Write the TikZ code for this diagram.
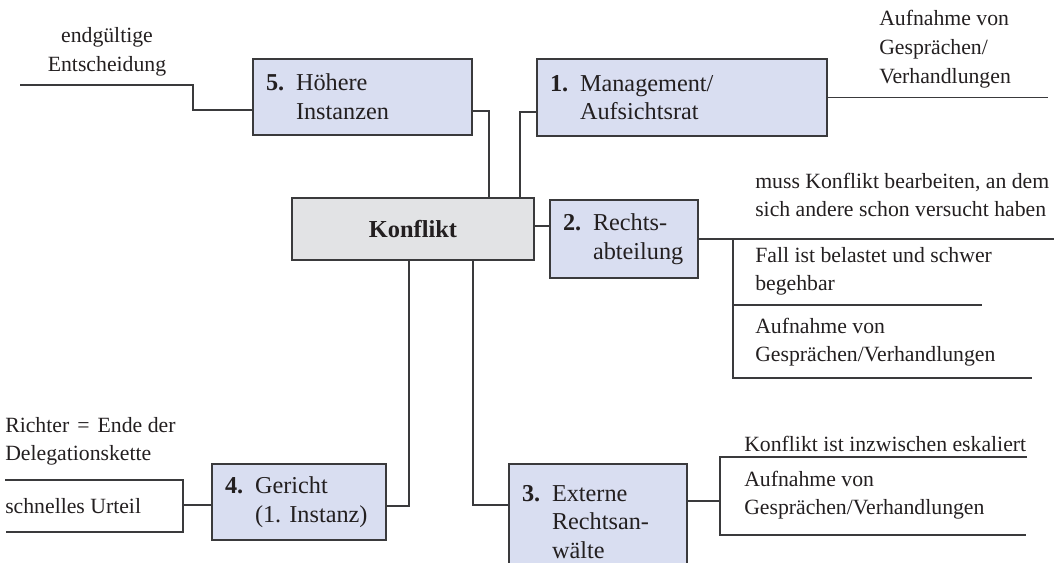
\documentclass[tikz,border=0pt]{standalone}
\usepackage{fontspec}
\setmainfont{Liberation Serif}
\definecolor{boxblue}{HTML}{D9DEF1}
\definecolor{boxgray}{HTML}{E2E3E5}
\definecolor{edge}{HTML}{3A3A3C}
\definecolor{ink}{HTML}{231F20}
\newcommand{\ml}[1]{\begin{tabular}[t]{@{}l@{}}#1\end{tabular}}
\newcommand{\mc}[1]{\begin{tabular}[t]{@{}c@{}}#1\end{tabular}}
\newcommand{\stnum}[1]{\makebox[22.5pt][l]{\textbf{#1}}}
\newcommand{\stind}{\hspace*{22.5pt}}
\begin{document}
\begin{tikzpicture}[x=0.75pt,y=-0.75pt,
  every node/.style={font=\fontsize{16.3}{21.5}\selectfont, text=ink},
  stage/.style={draw=edge, line width=1.3pt, fill=boxblue, inner xsep=9.75pt, inner ysep=0pt, align=left, anchor=center, font=\fontsize{18.2}{21.5}\selectfont},
  core/.style={draw=edge, line width=1.3pt, fill=boxgray, inner sep=0pt, minimum width=181.5pt, minimum height=46.5pt, font=\fontsize{18.3}{22}\selectfont\bfseries},
  conn/.style={draw=edge, line width=1.1pt},
  note/.style={anchor=base west, inner sep=0pt},
  notec/.style={anchor=base, inner sep=0pt}
]
\useasboundingbox (0,0) rectangle (1055,563);

% boxes
\node[core] (konf) at (413,229) {Konflikt};
\node[stage, text width=144.75pt, minimum height=57pt] (b5) at (362.5,97) {\stnum{5.}Höhere\\\stind Instanzen};
\node[stage, text width=198pt, minimum height=57.75pt] (b1) at (682,97.5) {\stnum{1.}Management/\\\stind Aufsichtsrat};
\node[stage, text width=91.5pt, minimum height=58.5pt] (b2) at (624,239) {\stnum{2.}Rechts-\\\stind abteilung};
\node[stage, text width=111pt, minimum height=57pt] (b4) at (299,502) {\stnum{4.}Gericht\\\stind (1.\ Instanz)};
\node[stage, text width=114pt, minimum height=87pt] (b3) at (598,522) {\stnum{3.}Externe\\\stind Rechtsan-\\\stind wälte};

% free ends and bracket corners
\coordinate (p5) at (193,85);
\coordinate (q5) at (20,85);
\coordinate (q1) at (1048,97.5);
\coordinate (q2) at (1054,239);
\coordinate (r2a) at (733,239);
\coordinate (r2b) at (733,378);
\coordinate (r2c) at (1032,378);
\coordinate (r2m) at (733,305);
\coordinate (r2n) at (982,305);
\coordinate (l4a) at (5,480);
\coordinate (l4b) at (183,480);
\coordinate (l4c) at (183,532);
\coordinate (l4d) at (6,532);
\coordinate (l4m) at (183,505);
\coordinate (r3m) at (720,501);
\coordinate (r3a) at (1027,457);
\coordinate (r3b) at (720,457);
\coordinate (r3c) at (720,535);
\coordinate (r3d) at (1026,535);

% connectors
\draw[conn] ([shift={(0,14)}]b5.east) -| ([shift={(76,0)}]konf.north);
\draw[conn] ([shift={(0,14.5)}]b1.west) -| ([shift={(107,0)}]konf.north);
\draw[conn] ([shift={(0,13)}]b5.west) -| (p5) -- (q5);
\draw[conn] (b1.east) -- (q1);
\draw[conn] ([shift={(0,-3)}]konf.east) -- ([shift={(0,-13)}]b2.west);
\draw[conn] (b2.east) -- (q2);
\draw[conn] (r2a) -- (r2b) -- (r2c);
\draw[conn] (r2m) -- (r2n);
\draw[conn] ([shift={(-4,0)}]konf.south) |- ([shift={(0,4)}]b4.east);
\draw[conn] ([shift={(60,0)}]konf.south) |- ([shift={(0,-17)}]b3.west);
\draw[conn] ([shift={(0,3)}]b4.west) -- (l4m);
\draw[conn] (l4a) -- (l4b) -- (l4c) -- (l4d);
\draw[conn] ([shift={(0,-21)}]b3.east) -- (r3m);
\draw[conn] (r3a) -- (r3b) -- (r3c) -- (r3d);

% texts
\node[notec] (t5) at (107,43) {\mc{endgültige\\Entscheidung}};
\node[note] (t1) at (879,26) {\ml{Aufnahme von\\Gesprächen/\\Verhandlungen}};
\node[note] (t2a) at (755,188) {\ml{muss Konflikt bearbeiten, an dem\\sich andere schon versucht haben}};
\node[note] (t2b) at (755,262) {\ml{Fall ist belastet und schwer\\begehbar}};
\node[note] (t2c) at (755,333) {\ml{Aufnahme von\\Gesprächen/Verhandlungen}};
\node[note] (t4a) at (5,432) {\ml{Richter\kern2pt{} = \kern2pt Ende der\\Delegationskette}};
\node[note] (t4b) at (5,513) {schnelles Urteil};
\node[note] (t3a) at (744,451) {Konflikt ist inzwischen eskaliert};
\node[note] (t3b) at (744,486) {\ml{Aufnahme von\\Gesprächen/Verhandlungen}};
\end{tikzpicture}
\end{document}
